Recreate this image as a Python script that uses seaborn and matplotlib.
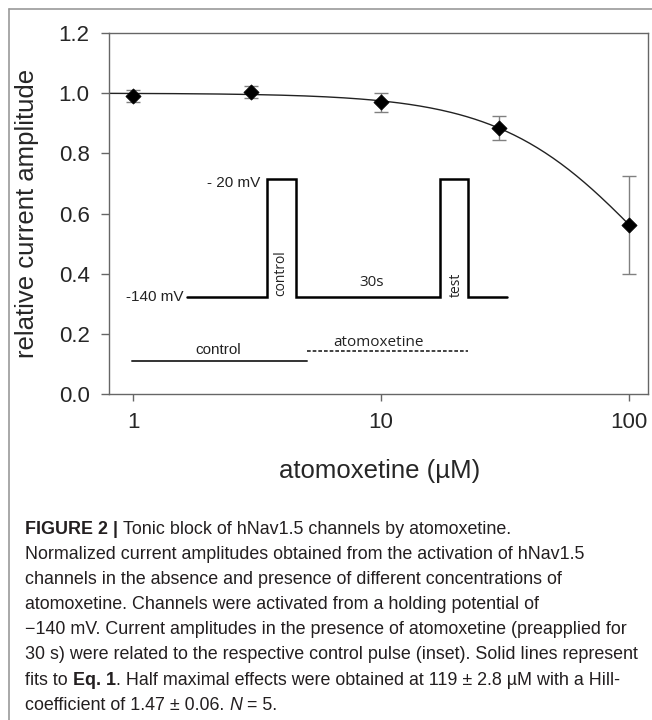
import numpy as np
import matplotlib
matplotlib.use("Agg")
import matplotlib.pyplot as plt
import seaborn as sns
from matplotlib.lines import Line2D
from matplotlib.ticker import FixedLocator, NullLocator

# data
conc = [1, 3, 10, 30, 100]                  # atomoxetine, uM
amp = [0.990, 1.004, 0.970, 0.885, 0.562]   # relative current amplitude
err = [0.021, 0.020, 0.031, 0.040, 0.162]
ic50 = 119.0     # fit parameters from the caption (Eq. 1)
hill = 1.47
x_ticks = [1, 10, 100]
x_ticklabels = ["1", "10", "100"]
y_ticks = [0.0, 0.2, 0.4, 0.6, 0.8, 1.0, 1.2]

caption = [
    [("FIGURE 2 | ", "bold", "normal"), ("Tonic block of hNav1.5 channels by atomoxetine.", "normal", "normal")],
    [("Normalized current amplitudes obtained from the activation of hNav1.5", "normal", "normal")],
    [("channels in the absence and presence of different concentrations of", "normal", "normal")],
    [("atomoxetine. Channels were activated from a holding potential of", "normal", "normal")],
    [("\u2212140 mV. Current amplitudes in the presence of atomoxetine (preapplied for", "normal", "normal")],
    [("30 s) were related to the respective control pulse (inset). Solid lines represent", "normal", "normal")],
    [("fits to ", "normal", "normal"), ("Eq. 1", "bold", "normal"),
     (". Half maximal effects were obtained at 119 \u00b1 2.8 \u00b5M with a Hill-", "normal", "normal")],
    [("coefficient of 1.47 \u00b1 0.06. ", "normal", "normal"), ("N", "normal", "italic"), (" = 5.", "normal", "normal")],
]

sns.set_style("white")
plt.rcParams["font.family"] = ["Liberation Sans", "DejaVu Sans"]

W, H = 652, 720
fig = plt.figure(figsize=(W / 100, H / 100), dpi=100)
ax = fig.add_axes([109 / W, 1 - 394 / H, 539 / W, 361 / H])

# fit curve (Hill equation, Eq. 1)
fit_x = np.logspace(np.log10(0.8), np.log10(100), 200)
fit_y = 1 / (1 + (fit_x / ic50) ** hill)
sns.lineplot(x=fit_x, y=fit_y, color="#222222", linewidth=1.0, ax=ax, zorder=2)

ax.errorbar(conc, amp, yerr=err, fmt="none", ecolor="#808080", elinewidth=1.0,
            capsize=4.7, capthick=1.0, zorder=3)
sns.scatterplot(x=conc, y=amp, marker="D", s=60, color="black", edgecolor="black",
                linewidth=0.5, ax=ax, zorder=4)

ax.set_xscale("log")
ax.set_xlim(0.8, 119.5)
ax.set_ylim(0, 1.2)
ax.xaxis.set_major_locator(FixedLocator(x_ticks))
ax.xaxis.set_minor_locator(NullLocator())
ax.set_xticklabels(x_ticklabels)
ax.set_yticks(y_ticks)
ax.set_yticklabels([f"{v:.1f}" for v in y_ticks])
ax.tick_params(axis="y", length=6, width=1, color="#666666", pad=8, labelsize=16, left=True)
ax.tick_params(axis="x", length=5, width=1, color="#666666", pad=8, labelsize=16, bottom=True)
for s in ax.spines.values():
    s.set_color("#666666")
    s.set_linewidth(1.0)

ax.set_ylabel("relative current amplitude", fontsize=18.5)
ax.yaxis.set_label_coords(-0.13, 0.5)
ax.set_xlabel("atomoxetine (\u00b5M)", fontsize=18.5)
ax.xaxis.set_label_coords(0.503, -0.18)

# inset: voltage protocol, drawn in axes fractions
T = ax.transAxes
wx = [0.1447, 0.2931, 0.2931, 0.3469, 0.3469, 0.6141, 0.6141, 0.6660, 0.6660, 0.7384]
wy = [0.2687, 0.2687, 0.5956, 0.5956, 0.2687, 0.2687, 0.5956, 0.5956, 0.2687, 0.2687]
ax.plot(wx, wy, transform=T, color="black", linewidth=1.8, solid_joinstyle="miter")
ax.plot([0.0427, 0.3673], [0.0914, 0.0914], transform=T, color="#333333", linewidth=1.4)
ax.plot([0.3673, 0.666], [0.1191, 0.1191], transform=T, color="#222222", linewidth=1.2,
        linestyle=(0, (2.2, 1.2)))

narrow = dict(family=["Liberation Sans", "DejaVu Sans"], fontsize=11, color="#222222")
opens = dict(family=["Open Sans", "DejaVu Sans"], fontsize=11, color="#222222")
ax.text(0.1373, 0.2687, "-140 mV", transform=T, ha="right", va="center", **narrow)
ax.text(0.2801, 0.5845, "- 20 mV", transform=T, ha="right", va="center", **narrow)
ax.text(0.2022, 0.1219, "control", transform=T, ha="center", va="center", **narrow)
ax.text(0.5009, 0.1440, "atomoxetine", transform=T, ha="center", va="center", **opens)
ax.text(0.4879, 0.3075, "30s", transform=T, ha="center", va="center", **opens)
ax.text(0.3191, 0.3352, "control", transform=T, ha="center", va="center", rotation=90,
        family=["Open Sans", "DejaVu Sans"], fontsize=10, color="#222222")
ax.text(0.6438, 0.3019, "test", transform=T, ha="center", va="center", rotation=90,
        family=["Open Sans", "DejaVu Sans"], fontsize=10, color="#222222")

# frame of the figure panel
fig.add_artist(Line2D([9 / W, 9 / W], [0, 1 - 9 / H], color="#9a9a9a", linewidth=1.2,
                      transform=fig.transFigure))
fig.add_artist(Line2D([9 / W, 1], [1 - 9 / H, 1 - 9 / H], color="#9a9a9a", linewidth=1.2,
                      transform=fig.transFigure))

# caption, run by run
renderer = fig.canvas.get_renderer()
line_y = [528, 553, 578, 603, 628, 653, 679, 704]
for y, runs in zip(line_y, caption):
    x = 25
    for txt, weight, style in runs:
        t = fig.text(x / W, 1 - (y + 6) / H, txt, fontsize=12.9, fontweight=weight,
                     fontstyle=style, color="#231f20", ha="left", va="baseline")
        x += t.get_window_extent(renderer).width

fig.savefig("out.png", dpi=100)
